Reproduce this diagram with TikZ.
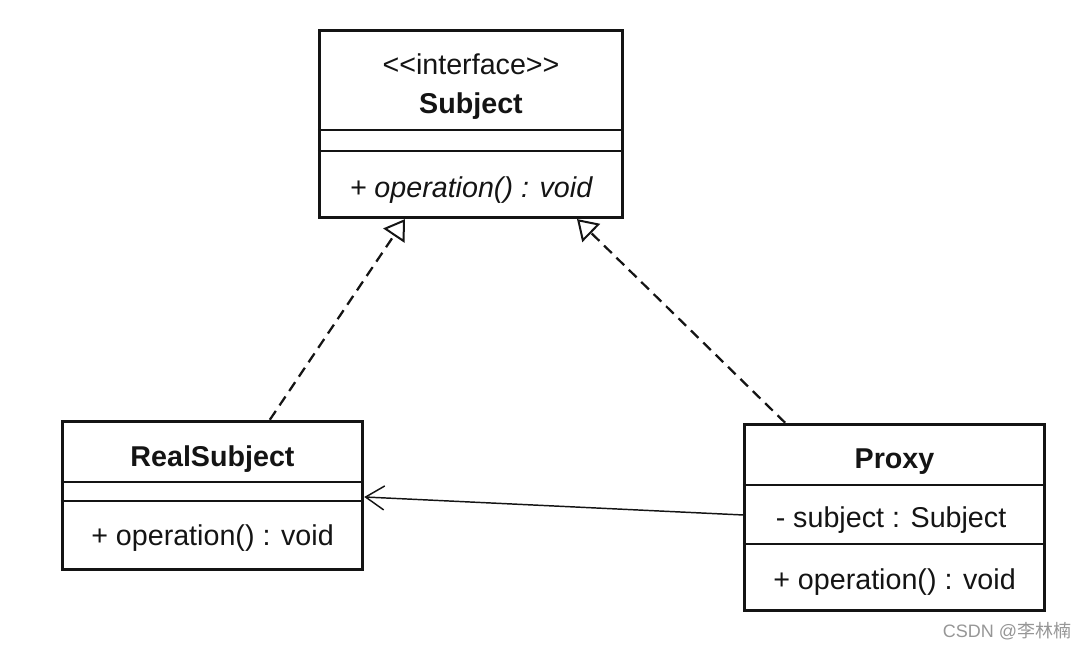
\documentclass[tikz,border=0pt]{standalone}
\usepackage{fontspec}
\setmainfont{Liberation Sans}
\newfontfamily\cjkfont{Noto Sans CJK SC}
\usetikzlibrary{positioning,arrows.meta}
\definecolor{colorline}{RGB}{20,20,20}
\definecolor{colormark}{RGB}{150,150,150}

\begin{document}
\begin{tikzpicture}[
    x=0.75pt, y=-0.75pt,
    font={\fontsize{21.5}{25}\selectfont},
    classbox/.style={draw=colorline,line width=2.6pt,rectangle,inner sep=0pt},
    divider/.style={draw=colorline,line width=1.1pt},
    member/.style={text=colorline,inner sep=0pt,text height=15pt,text depth=4pt},
    classname/.style={member,font={\fontsize{21.5}{25}\selectfont\bfseries}},
    realize/.style={draw=colorline,line width=1.7pt,dash pattern=on 8pt off 5pt,
        -{Triangle[open,length=15pt,width=19pt,line width=1.5pt]}},
    assoc/.style={draw=colorline,line width=1.1pt,
        -{Straight Barb[length=14pt,width=18pt,line width=1.1pt]}},
    watermark/.style={text=colormark,inner sep=0pt,font={\fontsize{13.5}{16}\selectfont}},
]

    \useasboundingbox (0,0) rectangle (1088,648);

    \node[classbox,minimum width=227pt,minimum height=140pt] (subject) at (471,124) {};
    \draw[divider] (subject.west |- 0,130) -- (subject.east |- 0,130);
    \draw[divider] (subject.west |- 0,151) -- (subject.east |- 0,151);
    \node[member] (subject-stereo) at (471,67) {<\kern0pt<interface>\kern0pt>};
    \node[classname] (subject-name) at (471,106) {Subject};
    \node[member,font={\fontsize{21.5}{25}\selectfont\itshape}] (subject-op) at (471,190) {+ operation() : void};

    \node[classbox,minimum width=225pt,minimum height=111pt] (real) at (212.5,495.5) {};
    \draw[divider] (real.west |- 0,482) -- (real.east |- 0,482);
    \draw[divider] (real.west |- 0,501) -- (real.east |- 0,501);
    \node[classname] (real-name) at (212.5,459) {RealSubject};
    \node[member] (real-op) at (212.5,538) {+ operation() : void};

    \node[classbox,minimum width=225pt,minimum height=139.5pt] (proxy) at (894.5,517.5) {};
    \draw[divider] (proxy.west |- 0,485) -- (proxy.east |- 0,485);
    \draw[divider] (proxy.west |- 0,544) -- (proxy.east |- 0,544);
    \node[classname] (proxy-name) at (894.5,461) {Proxy};
    \node[member] (proxy-field) at (891,520) {- subject : Subject};
    \node[member] (proxy-op) at (894.5,582) {+ operation() : void};

    \draw[realize] ([xshift=43pt]real.north) -- ([xshift=-49.5pt]subject.south);
    \draw[realize] ([xshift=-82pt]proxy.north) -- ([xshift=79.5pt]subject.south);
    \draw[assoc] ([yshift=1.9pt]proxy.west) -- ([yshift=-1.1pt]real.east);

    \node[watermark] (mark) at (1007,631) {CSDN @{\cjkfont 李林楠}};

\end{tikzpicture}
\end{document}
